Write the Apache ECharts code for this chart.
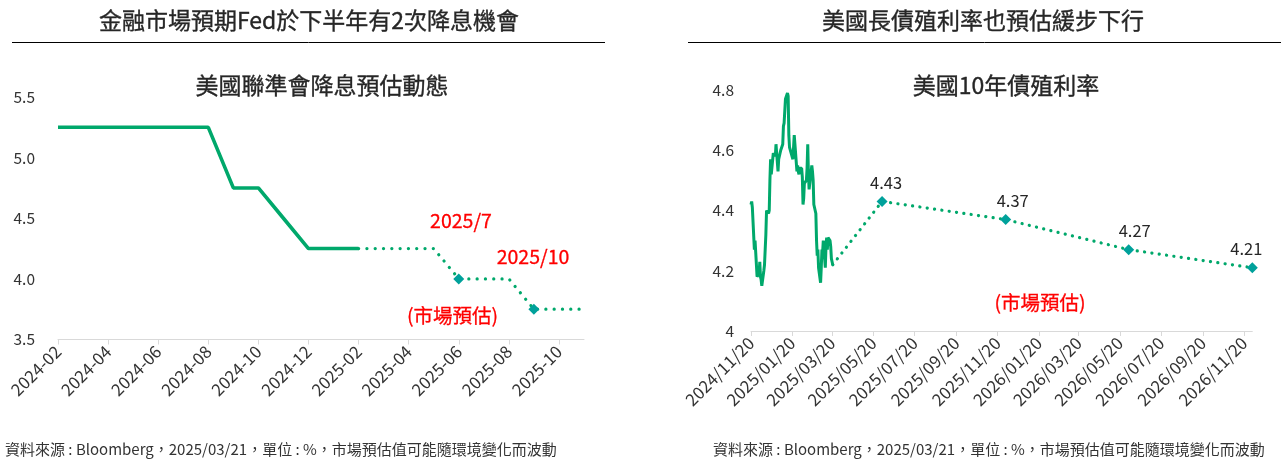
<!DOCTYPE html>
<html><head><meta charset="utf-8">
<script src="https://cdn.jsdelivr.net/npm/echarts@6/dist/echarts.min.js"></script>
<style>html,body{margin:0;padding:0;background:#fff}#c{width:1288px;height:465px}</style>
</head><body><div id="c"></div>
<script>
// ---------- Left chart data ----------
const fedMonths = ['2024-02','2024-03','2024-04','2024-05','2024-06','2024-07','2024-08','2024-09','2024-10','2024-11','2024-12','2025-01','2025-02','2025-03','2025-04','2025-05','2025-06','2025-07','2025-08','2025-09','2025-10','2025-11'];
const fedActual = [5.25,5.25,5.25,5.25,5.25,5.25,5.25,4.75,4.75,4.5,4.25,4.25,4.25,null,null,null,null,null,null,null,null,null];
const fedForecast = [null,null,null,null,null,null,null,null,null,null,null,null,4.25,4.25,4.25,4.25,4.0,4.0,4.0,3.75,3.75,3.75];
const fedMarkedMonths = ['2025-06','2025-09'];
const fedYTicks = [3.5, 4.0, 4.5, 5.0, 5.5];

// ---------- Right chart data ----------
const yieldDates = ['2024/11/20','2024/11/21','2024/11/22','2024/11/25','2024/11/26','2024/11/27','2024/11/29',
 '2024/12/02','2024/12/03','2024/12/04','2024/12/05','2024/12/06','2024/12/09','2024/12/10','2024/12/11','2024/12/12','2024/12/13','2024/12/16','2024/12/17','2024/12/18','2024/12/19','2024/12/20','2024/12/23','2024/12/24','2024/12/26','2024/12/27','2024/12/30','2024/12/31',
 '2025/01/02','2025/01/03','2025/01/06','2025/01/07','2025/01/08','2025/01/10','2025/01/13','2025/01/14','2025/01/15','2025/01/16','2025/01/17','2025/01/21','2025/01/22','2025/01/23','2025/01/24','2025/01/27','2025/01/28','2025/01/29','2025/01/30','2025/01/31',
 '2025/02/03','2025/02/04','2025/02/05','2025/02/06','2025/02/07','2025/02/10','2025/02/11','2025/02/12','2025/02/13','2025/02/14','2025/02/18','2025/02/19','2025/02/20','2025/02/21','2025/02/24','2025/02/25','2025/02/26','2025/02/27','2025/02/28',
 '2025/03/03','2025/03/04','2025/03/05','2025/03/06','2025/03/07','2025/03/10','2025/03/11','2025/03/12','2025/03/13','2025/03/14','2025/03/17','2025/03/18','2025/03/19','2025/03/20','2025/03/21'];
const yieldValues = [4.42,4.43,4.41,4.27,4.30,4.26,4.18,
 4.19,4.23,4.18,4.17,4.15,4.20,4.22,4.27,4.32,4.40,4.39,4.40,4.50,4.57,4.52,4.59,4.59,4.58,4.62,4.53,4.57,
 4.57,4.60,4.62,4.68,4.69,4.77,4.79,4.78,4.65,4.61,4.61,4.57,4.61,4.65,4.62,4.53,4.55,4.53,4.52,4.54,
 4.54,4.51,4.42,4.44,4.49,4.50,4.54,4.62,4.52,4.47,4.55,4.53,4.50,4.42,4.39,4.30,4.25,4.27,4.21,
 4.16,4.21,4.27,4.26,4.30,4.21,4.28,4.31,4.27,4.31,4.30,4.28,4.24,4.23,4.22];
const forecastDates = ['2025/03/21','2025/06/02','2025/12/02','2026/06/02','2026/12/02'];
const forecastValues = [4.22, 4.43, 4.37, 4.27, 4.21];
const forecastLabelShift = [0, 4, 7, 6, -6];
const axisStartDate = '2024/11/20';
const axisEndDate = '2026/12/02';

// ---------- texts ----------
const leftTitle = '金融市場預期Fed於下半年有2次降息機會';
const rightTitle = '美國長債殖利率也預估緩步下行';
const leftSub = '美國聯準會降息預估動態';
const rightSub = '美國10年債殖利率';
const footnote = '資料來源 : Bloomberg，2025/03/21，單位 : %，市場預估值可能隨環境變化而波動';

// build daily category list for the right axis
function pad(n){return n<10?'0'+n:''+n;}
function fmt(d){return d.getUTCFullYear()+'/'+pad(d.getUTCMonth()+1)+'/'+pad(d.getUTCDate());}
function parse(s){const p=s.split('/');return new Date(Date.UTC(+p[0],+p[1]-1,+p[2]));}
const dayCats = [];
for (let d = parse(axisStartDate); d <= parse(axisEndDate); d = new Date(d.getTime()+86400000)) dayCats.push(fmt(d));

const GREEN = '#00A86B';
const TEAL = '#00A19B';
const FONT = '"Noto Sans CJK TC", "Noto Sans", sans-serif';
const TXT = '#333333';

const tickFn = function(idx, val){ return val.slice(8) === '20' && (parseInt(val.slice(5,7),10) % 2 === 1); };

const chart = echarts.init(document.getElementById('c'), null, {renderer:'canvas'});

function txt(text, x, y, size, color, strokeW, align){
  const st = {text:text, fill:color, fontSize:size, fontFamily:FONT, fontWeight:'normal',
      align:align||'center', verticalAlign:'middle', textAlign:align||'center', textVerticalAlign:'middle'};
  if (strokeW) { st.stroke = color; st.lineWidth = strokeW; }
  return {type:'text', x:x, y:y, silent:true, style:st};
}

const option = {
  animation:false,
  textStyle:{fontFamily:FONT},
  grid:[
    {left:58, top:97, width:526, height:242.5, containLabel:false, outerBoundsMode:'none'},
    {left:751, top:90, width:501.3, height:241, containLabel:false, outerBoundsMode:'none'}
  ],
  xAxis:[
    {type:'category', gridIndex:0, data:fedMonths, boundaryGap:false,
     axisLine:{lineStyle:{color:'#D9D9D9', width:1}},
     axisTick:{interval:1, length:5, lineStyle:{color:'#D9D9D9'}},
     axisLabel:{interval:1, rotate:45, fontSize:17, color:TXT, fontFamily:FONT, margin:9},
     splitLine:{show:false}},
    {type:'category', gridIndex:1, data:dayCats, boundaryGap:false,
     axisLine:{lineStyle:{color:'#D9D9D9', width:1}},
     axisTick:{interval:tickFn, length:5, lineStyle:{color:'#D9D9D9'}},
     axisLabel:{interval:tickFn, rotate:45, fontSize:17, color:TXT, fontFamily:FONT, margin:9},
     splitLine:{show:false}}
  ],
  yAxis:[
    {type:'value', gridIndex:0, min:fedYTicks[0], max:fedYTicks[fedYTicks.length-1], interval:0.5,
     axisLine:{show:false}, axisTick:{show:false}, splitLine:{show:false},
     axisLabel:{fontSize:15.5, color:TXT, fontFamily:FONT, margin:23, formatter:function(v){return v.toFixed(1);}}},
    {type:'value', gridIndex:1, min:4, max:4.8, interval:0.2,
     axisLine:{show:false}, axisTick:{show:false}, splitLine:{show:false},
     axisLabel:{fontSize:15.5, color:TXT, fontFamily:FONT, margin:17, formatter:function(v){return String(Math.round(v*10)/10);}}}
  ],
  series:[
    {type:'line', xAxisIndex:0, yAxisIndex:0, data:fedActual, showSymbol:false, symbol:'none',
     lineStyle:{color:GREEN, width:3.6}, z:3},
    {type:'line', xAxisIndex:0, yAxisIndex:0, showAllSymbol:true, symbol:'diamond', symbolSize:11,
     itemStyle:{color:TEAL}, lineStyle:{color:GREEN, width:3.2, type:[0.1, 8.2], cap:'round'}, z:2,
     data: fedForecast.map(function(v,i){
        return fedMarkedMonths.indexOf(fedMonths[i]) >= 0 ? {value:v} : {value:v, symbol:'none'};
     })},
    {type:'line', xAxisIndex:1, yAxisIndex:1, showSymbol:false, symbol:'none',
     lineStyle:{color:GREEN, width:3}, z:3,
     data: yieldDates.map(function(d,i){return [d, yieldValues[i]];})},
    {type:'line', xAxisIndex:1, yAxisIndex:1, showAllSymbol:true, symbol:'diamond', symbolSize:11,
     itemStyle:{color:TEAL}, lineStyle:{color:GREEN, width:3.2, type:[0.1, 7.3], cap:'round'}, z:2,
     data: forecastDates.map(function(d,i){
        if (i === 0) return {value:[d, forecastValues[i]], symbol:'none'};
        return {value:[d, forecastValues[i]],
          label:{show:true, position:'top', distance:5, offset:[forecastLabelShift[i],0],
            formatter:function(p){return p.value[1].toFixed(2);},
            fontSize:16.5, color:'#262626', fontFamily:FONT}};
     })}
  ],
  graphic:[
    txt(leftTitle, 309, 20, 23, '#262626', 0.35),
    txt(rightTitle, 983, 20, 23, '#262626', 0.35),
    {type:'line', silent:true, shape:{x1:12, y1:42.5, x2:605, y2:42.5}, style:{stroke:'#000', lineWidth:1}},
    {type:'line', silent:true, shape:{x1:688, y1:42.5, x2:1281, y2:42.5}, style:{stroke:'#000', lineWidth:1}},
    txt(leftSub, 322, 85, 23, '#262626', 0.35),
    txt(rightSub, 1006, 85, 23, '#262626', 0.35),
    txt('2025/7', 461, 220.5, 19.5, '#FF0000', 0.3),
    txt('2025/10', 533, 256.5, 19.5, '#FF0000', 0.3),
    txt('(市場預估)', 452.5, 316, 19.5, '#FF0000', 0.3),
    txt('(市場預估)', 1040, 303, 19.5, '#FF0000', 0.3),
    txt(footnote, 5, 449, 15, TXT, 0, 'left'),
    txt(footnote, 713, 449, 15, TXT, 0, 'left')
  ]
};
chart.setOption(option);
</script></body></html>
